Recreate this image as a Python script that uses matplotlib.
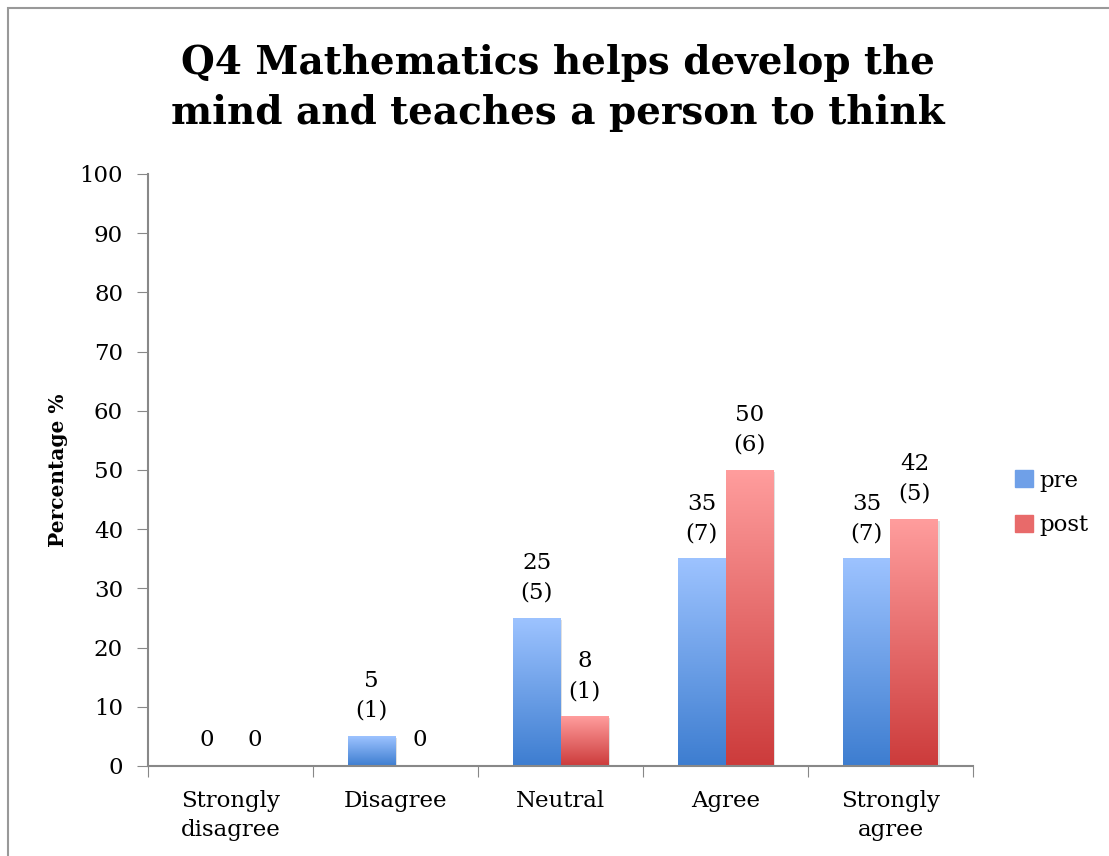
import numpy as np
import matplotlib
matplotlib.use('Agg')
import matplotlib.pyplot as plt
from matplotlib.colors import LinearSegmentedColormap
from matplotlib.patches import Rectangle

plt.rcParams['font.family'] = ['DejaVu Serif']

# data
categories = ['Strongly\ndisagree', 'Disagree', 'Neutral', 'Agree', 'Strongly\nagree']
pre = [0, 5, 25, 35, 35]
post = [0, 0, 8.33, 50, 41.67]
pre_labels = ['0', '5\n(1)', '25\n(5)', '35\n(7)', '35\n(7)']
post_labels = ['0', '0', '8\n(1)', '50\n(6)', '42\n(5)']

blue_cmap = LinearSegmentedColormap.from_list('b', ['#3d7dd0', '#9dc3ff'])
red_cmap = LinearSegmentedColormap.from_list('r', ['#cc3b3b', '#ff9d9d'])

fig = plt.figure(figsize=(11.09, 8.56), dpi=100)
# outer frame
fig.patches.append(Rectangle((8/1109, -0.1), 1.2, 1 - 8/856 + 0.1, transform=fig.transFigure,
                             fill=False, edgecolor='#999999', lw=1.5))
ax = fig.add_axes([148/1109, 1 - 766/856, (973 - 148)/1109, (766 - 174)/856])

x = np.arange(len(categories))
w = 0.29
grad = np.linspace(0, 1, 256).reshape(-1, 1)

def draw_bars(xs, vals, cmap):
    bars = ax.bar(xs, vals, w, color='none', edgecolor='none')
    for b in bars:
        h = b.get_height()
        if h <= 0:
            continue
        x0 = b.get_x()
        # soft shadow
        ax.add_patch(Rectangle((x0 + 0.012, 0), w, h - 0.3, color='#000000', alpha=0.12,
                               lw=0, zorder=1))
        ax.imshow(grad, extent=[x0, x0 + w, 0, h], origin='lower', cmap=cmap,
                  aspect='auto', zorder=2)
    return bars

draw_bars(x - w/2, pre, blue_cmap)
draw_bars(x + w/2, post, red_cmap)

for xi, v, t in zip(x - w/2, pre, pre_labels):
    ax.annotate(t, (xi, v), xytext=(0, 10.5), textcoords='offset points', ha='center',
                va='bottom', fontsize=16.5, linespacing=1.45)
for xi, v, t in zip(x + w/2, post, post_labels):
    ax.annotate(t, (xi, v), xytext=(0, 10.5), textcoords='offset points', ha='center',
                va='bottom', fontsize=16.5, linespacing=1.45)

ax.set_xlim(-0.5, len(categories) - 0.5)
ax.set_ylim(0, 100)
ax.set_yticks(np.arange(0, 101, 10))
ax.set_xticks(np.arange(-0.5, len(categories), 1))
ax.set_xticklabels([])
ax.set_xticks(x, minor=True)
ax.set_xticklabels(categories, minor=True, fontsize=16.5, linespacing=1.45)
ax.tick_params(axis='x', which='minor', length=0, pad=17)
ax.tick_params(axis='x', which='major', length=8, color='#888888', direction='out')
ax.tick_params(axis='y', length=8, color='#888888', labelsize=16.5, pad=10)
for s in ['top', 'right']:
    ax.spines[s].set_visible(False)
for s in ['left', 'bottom']:
    ax.spines[s].set_color('#888888')
    ax.spines[s].set_linewidth(1.5)

ax.set_ylabel('Percentage %', fontsize=14.5, fontweight='bold', labelpad=8)
fig.text(558/1109, 1 - 88/856, 'Q4 Mathematics helps develop the\nmind and teaches a person to think',
         ha='center', va='center', fontsize=28, fontweight='bold', linespacing=1.4)

# legend
handles = [Rectangle((0, 0), 1, 1, color='#6fa0e8'), Rectangle((0, 0), 1, 1, color='#e86a6a')]
fig.legend(handles, ['pre', 'post'], loc='center left', bbox_to_anchor=(994/1109, 1 - 503/856),
           frameon=False, fontsize=16.5, handlelength=0.8, handleheight=0.8, labelspacing=1.0,
           handletextpad=0.3)

fig.savefig('out.png', dpi=100)
